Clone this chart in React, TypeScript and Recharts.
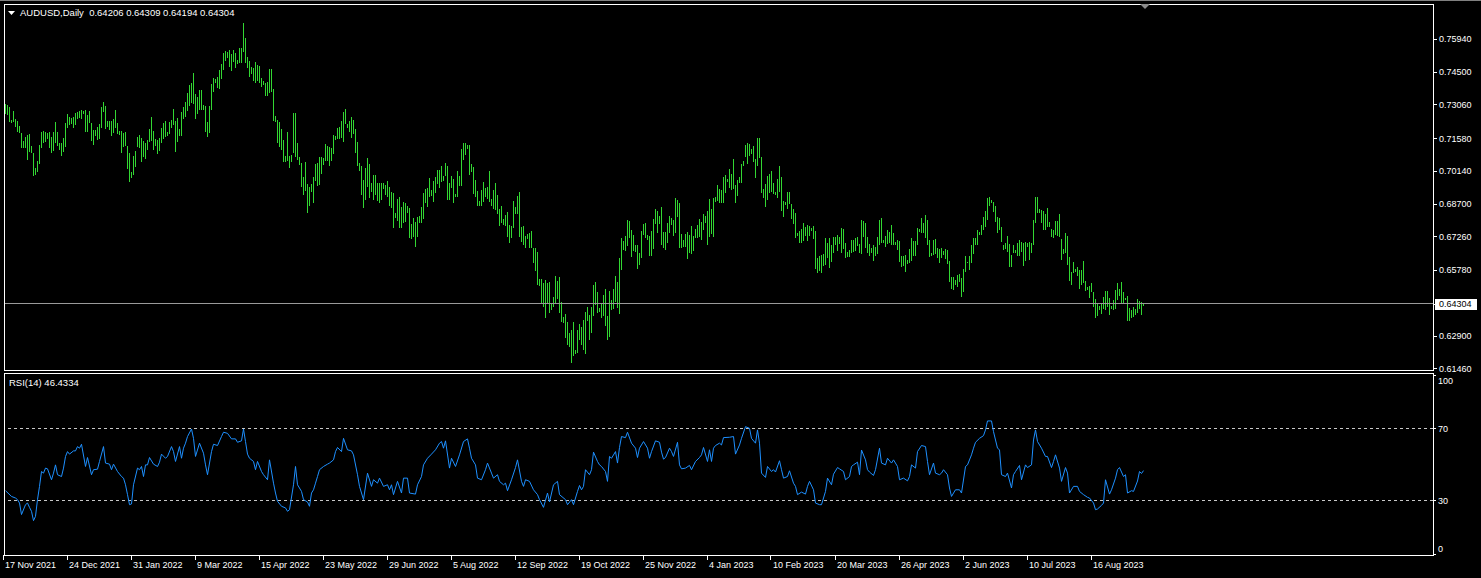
import { ComposedChart, Bar, Line, XAxis, YAxis, ReferenceLine } from 'recharts';

// AUDUSD daily bars, price x 10000, one entry per bar (0 = 17 Nov 2021)
const highs = [
  7306, 7303, 7296, 7237, 7277, 7242, 7233, 7212, 7179, 7145,
  7164, 7171, 7174, 7125, 7094, 7025, 7057, 7127, 7183, 7189,
  7186, 7179, 7183, 7164, 7183, 7230, 7183, 7138, 7135, 7160,
  7223, 7262, 7249, 7245, 7252, 7270, 7274, 7277, 7281, 7278,
  7281, 7259, 7277, 7223, 7193, 7193, 7208, 7218, 7296, 7315,
  7300, 7233, 7233, 7233, 7242, 7281, 7223, 7189, 7189, 7179,
  7186, 7125, 7091, 7010, 7081, 7101, 7164, 7171, 7160, 7145,
  7135, 7149, 7198, 7252, 7189, 7154, 7149, 7160, 7201, 7223,
  7233, 7186, 7227, 7237, 7286, 7233, 7245, 7198, 7274, 7296,
  7315, 7354, 7391, 7398, 7442, 7350, 7340, 7369, 7369, 7303,
  7300, 7227, 7300, 7394, 7420, 7417, 7428, 7457, 7482, 7530,
  7540, 7535, 7545, 7526, 7545, 7530, 7501, 7555, 7555, 7662,
  7596, 7516, 7497, 7472, 7467, 7494, 7479, 7476, 7420, 7409,
  7401, 7403, 7461, 7461, 7374, 7256, 7236, 7230, 7198, 7149,
  7081, 7186, 7081, 7084, 7267, 7267, 7135, 7073, 7047, 6985,
  7054, 6955, 6941, 6956, 6985, 7044, 7047, 7073, 7073, 7069,
  7132, 7123, 7120, 7113, 7171, 7167, 7201, 7205, 7233, 7271,
  7284, 7220, 7231, 7249, 7237, 7196, 7141, 7047, 7035, 6974,
  7025, 7069, 7044, 6959, 6996, 6996, 6962, 6962, 6959, 6959,
  6952, 6969, 6941, 6922, 6918, 6827, 6890, 6897, 6853, 6877,
  6874, 6859, 6849, 6780, 6805, 6789, 6812, 6815, 6856, 6915,
  6933, 6937, 6981, 6930, 6969, 6988, 7018, 7018, 7035, 6991,
  7047, 7035, 6962, 6991, 6980, 6912, 7015, 6991, 7108, 7138,
  7135, 7127, 7127, 7044, 7032, 6974, 6927, 6883, 6930, 6966,
  6937, 6941, 7015, 6889, 6930, 6959, 6908, 6845, 6859, 6804,
  6820, 6835, 6776, 6772, 6881, 6856, 6903, 6922, 6766, 6772,
  6728, 6736, 6742, 6751, 6673, 6673, 6659, 6539, 6539, 6520,
  6534, 6523, 6527, 6432, 6461, 6552, 6531, 6546, 6439, 6373,
  6385, 6351, 6303, 6315, 6351, 6227, 6315, 6341, 6329, 6359,
  6395, 6417, 6380, 6417, 6512, 6525, 6480, 6410, 6432, 6468,
  6495, 6376, 6486, 6446, 6493, 6552, 6525, 6629, 6717, 6706,
  6728, 6798, 6794, 6754, 6732, 6688, 6688, 6651, 6750, 6780,
  6783, 6732, 6728, 6751, 6801, 6846, 6837, 6817, 6854, 6747,
  6745, 6785, 6815, 6805, 6798, 6893, 6886, 6874, 6736, 6710,
  6736, 6745, 6732, 6772, 6728, 6760, 6776, 6802, 6791, 6824,
  6815, 6839, 6890, 6846, 6893, 6900, 6952, 6933, 6930, 6988,
  6996, 6977, 7021, 7000, 7066, 6952, 6974, 6988, 7044, 7057,
  7127, 7138, 7130, 7110, 7123, 7066, 7157, 7157, 7073, 6933,
  6955, 6991, 7000, 7013, 6962, 6922, 6978, 7035, 6985, 6883,
  6878, 6922, 6919, 6868, 6846, 6830, 6742, 6751, 6758, 6783,
  6769, 6776, 6773, 6764, 6772, 6750, 6629, 6640, 6644, 6647,
  6717, 6695, 6717, 6688, 6725, 6722, 6732, 6725, 6763, 6758,
  6695, 6659, 6666, 6710, 6710, 6717, 6722, 6691, 6798, 6794,
  6783, 6722, 6692, 6676, 6688, 6681, 6722, 6798, 6805, 6710,
  6728, 6754, 6747, 6776, 6742, 6703, 6710, 6707, 6640, 6640,
  6644, 6622, 6669, 6717, 6707, 6707, 6761, 6757, 6805, 6786,
  6820, 6798, 6710, 6654, 6710, 6713, 6673, 6669, 6673, 6662,
  6669, 6666, 6618, 6546, 6546, 6534, 6556, 6559, 6542, 6583,
  6640, 6615, 6640, 6688, 6717, 6717, 6754, 6747, 6776, 6810,
  6839, 6893, 6897, 6886, 6878, 6859, 6810, 6805, 6769, 6688,
  6695, 6728, 6692, 6644, 6688, 6666, 6698, 6710, 6703, 6698,
  6703, 6695, 6703, 6698, 6798, 6897, 6897, 6845, 6842, 6839,
  6824, 6849, 6791, 6757, 6754, 6795, 6795, 6824, 6713, 6669,
  6739, 6728, 6637, 6571, 6615, 6581, 6593, 6578, 6578, 6618,
  6531, 6502, 6508, 6520, 6480, 6449, 6432, 6420, 6432, 6458,
  6486, 6487, 6454, 6420, 6444, 6490, 6523, 6493, 6524, 6483,
  6457, 6464, 6410, 6400, 6417, 6405, 6451, 6442, 6436, 6431,
];

const lows = [
  7262, 7259, 7227, 7223, 7230, 7208, 7186, 7179, 7113, 7116,
  7116, 7062, 7095, 7091, 6993, 6996, 7007, 7043, 7116, 7135,
  7142, 7154, 7113, 7091, 7101, 7135, 7125, 7105, 7081, 7098,
  7120, 7201, 7215, 7218, 7204, 7215, 7242, 7245, 7242, 7262,
  7183, 7186, 7223, 7145, 7127, 7168, 7149, 7154, 7201, 7274,
  7198, 7208, 7193, 7168, 7179, 7201, 7174, 7171, 7091, 7120,
  7125, 7022, 6966, 6981, 6996, 7032, 7120, 7113, 7051, 7076,
  7066, 7105, 7139, 7145, 7105, 7125, 7086, 7101, 7135, 7154,
  7164, 7168, 7174, 7201, 7215, 7095, 7139, 7168, 7168, 7242,
  7252, 7277, 7300, 7311, 7306, 7242, 7262, 7281, 7281, 7281,
  7186, 7164, 7182, 7281, 7362, 7398, 7376, 7374, 7417, 7457,
  7497, 7508, 7472, 7453, 7494, 7467, 7482, 7486, 7486, 7535,
  7486, 7467, 7428, 7438, 7409, 7398, 7409, 7398, 7384, 7391,
  7344, 7344, 7354, 7362, 7233, 7230, 7135, 7120, 7105, 7054,
  7054, 7057, 7028, 7051, 7091, 7076, 7062, 7040, 6944, 6908,
  6927, 6830, 6859, 6922, 6874, 6971, 6947, 6952, 7000, 7040,
  7059, 7059, 7037, 7059, 7088, 7149, 7152, 7152, 7157, 7142,
  7220, 7201, 7183, 7157, 7176, 7094, 7037, 7015, 6908, 6852,
  6886, 6944, 6896, 6922, 6886, 6908, 6883, 6871, 6886, 6933,
  6908, 6900, 6859, 6849, 6764, 6805, 6795, 6761, 6761, 6783,
  6790, 6830, 6717, 6713, 6722, 6681, 6725, 6786, 6786, 6804,
  6871, 6856, 6900, 6903, 6878, 6918, 6956, 6937, 6966, 6971,
  6991, 6886, 6886, 6937, 6871, 6900, 6897, 6947, 6947, 7062,
  7083, 7108, 6996, 7010, 6912, 6900, 6859, 6859, 6859, 6878,
  6900, 6889, 6878, 6859, 6845, 6842, 6824, 6772, 6783, 6776,
  6772, 6725, 6698, 6717, 6761, 6824, 6824, 6725, 6703, 6688,
  6673, 6713, 6673, 6673, 6610, 6575, 6512, 6508, 6435, 6417,
  6366, 6429, 6391, 6400, 6417, 6432, 6449, 6391, 6351, 6344,
  6278, 6249, 6238, 6171, 6200, 6209, 6212, 6271, 6249, 6227,
  6209, 6356, 6271, 6303, 6376, 6424, 6391, 6395, 6369, 6376,
  6332, 6271, 6285, 6402, 6407, 6439, 6410, 6385, 6578, 6666,
  6663, 6684, 6717, 6634, 6663, 6659, 6581, 6600, 6629, 6732,
  6717, 6710, 6640, 6640, 6669, 6780, 6742, 6779, 6688, 6673,
  6666, 6698, 6739, 6776, 6728, 6739, 6810, 6676, 6676, 6678,
  6681, 6627, 6654, 6649, 6662, 6717, 6717, 6725, 6710, 6754,
  6783, 6688, 6725, 6736, 6725, 6878, 6883, 6874, 6874, 6871,
  6915, 6966, 6937, 6930, 6934, 6874, 6905, 6959, 6959, 7037,
  7076, 7042, 7079, 7088, 7054, 6984, 7035, 7069, 6918, 6896,
  6856, 6886, 6918, 6922, 6912, 6908, 6893, 6919, 6839, 6813,
  6864, 6845, 6868, 6801, 6779, 6720, 6728, 6698, 6698, 6707,
  6728, 6707, 6728, 6751, 6714, 6581, 6566, 6575, 6566, 6597,
  6600, 6629, 6588, 6615, 6654, 6688, 6663, 6692, 6651, 6669,
  6629, 6634, 6637, 6654, 6659, 6663, 6684, 6654, 6649, 6722,
  6673, 6654, 6640, 6651, 6619, 6640, 6648, 6688, 6695, 6695,
  6681, 6692, 6695, 6688, 6688, 6688, 6666, 6615, 6593, 6596,
  6571, 6605, 6610, 6619, 6640, 6640, 6688, 6744, 6739, 6742,
  6717, 6688, 6637, 6641, 6644, 6648, 6629, 6607, 6629, 6644,
  6625, 6605, 6527, 6493, 6490, 6512, 6502, 6527, 6458, 6483,
  6571, 6607, 6578, 6610, 6648, 6688, 6688, 6732, 6732, 6754,
  6766, 6798, 6859, 6871, 6835, 6791, 6742, 6754, 6703, 6666,
  6669, 6659, 6593, 6593, 6654, 6651, 6640, 6640, 6659, 6596,
  6619, 6678, 6622, 6651, 6688, 6786, 6830, 6827, 6783, 6754,
  6754, 6769, 6766, 6725, 6717, 6732, 6728, 6725, 6622, 6648,
  6654, 6600, 6531, 6512, 6564, 6567, 6552, 6496, 6512, 6523,
  6487, 6490, 6454, 6483, 6414, 6366, 6376, 6400, 6385, 6407,
  6402, 6417, 6381, 6405, 6402, 6405, 6444, 6464, 6435, 6435,
  6444, 6356, 6356, 6366, 6370, 6381, 6388, 6405, 6381, 6419,
];

const rsiBars = [
  0, 3, 5, 6, 7, 8, 10, 11, 12, 13,
  14, 15, 16, 17, 18, 19, 20, 21, 23, 24,
  25, 26, 28, 29, 30, 31, 32, 34, 35, 36,
  37, 38, 40, 41, 43, 44, 46, 47, 49, 50,
  52, 53, 54, 56, 58, 59, 60, 61, 62, 63,
  64, 66, 67, 68, 69, 70, 71, 72, 74, 76,
  77, 78, 80, 81, 83, 84, 85, 87, 88, 89,
  90, 91, 93, 94, 95, 97, 99, 100, 101, 103,
  104, 106, 108, 109, 111, 113, 115, 116, 118, 119,
  120, 121, 122, 124, 125, 126, 128, 129, 131, 132,
  134, 135, 136, 138, 140, 141, 142, 144, 145, 146,
  148, 149, 151, 152, 153, 154, 155, 156, 157, 159,
  161, 162, 164, 165, 166, 168, 169, 171, 173, 174,
  176, 177, 179, 181, 183, 184, 186, 187, 189, 191,
  192, 193, 194, 196, 198, 199, 201, 202, 205, 206,
  208, 209, 211, 213, 215, 217, 218, 219, 220, 222,
  223, 225, 227, 229, 231, 232, 233, 235, 236, 238,
  240, 241, 243, 244, 246, 247, 249, 250, 251, 253,
  255, 256, 258, 259, 260, 262, 264, 266, 267, 269,
  271, 272, 274, 276, 277, 280, 281, 283, 284,
  286, 287, 288, 289, 290, 292, 293, 294, 296, 297,
  298, 300, 301, 302, 303, 305, 306, 307, 308, 310,
  311, 313, 315, 316, 317, 319, 321, 322, 323, 325,
  327, 328, 329, 330, 332, 333, 334, 336, 337, 338,
  340, 342, 343, 345, 347, 348, 349, 351, 352, 353,
  354, 355, 357, 358, 359, 362, 364, 365, 367, 368,
  370, 372, 373, 375, 376, 377, 378, 380, 381, 383,
  384, 385, 387, 388, 389, 391, 392, 394, 395, 396,
  398, 400, 401, 402, 404, 405, 407, 408, 410, 411,
  413, 414, 416, 417, 419, 420, 422, 423, 424, 426,
  427, 428, 430, 431, 432, 434, 435, 437, 438, 440,
  441, 443, 444, 446, 447, 449, 451, 452, 453, 455,
  456, 458, 460, 461, 462, 464, 465, 467, 468, 469,
  471, 472, 473, 475, 477, 478, 480, 481, 483, 484,
  485, 487, 489, 490, 491, 493, 494, 496, 497, 498,
  500, 501, 503, 504, 505, 507, 508, 510, 511, 513,
  514, 515, 516, 518, 520, 521, 523, 524, 525, 527,
  528, 530, 531, 532, 534, 536, 537, 539, 541, 542,
  544, 545, 546, 548, 549, 550, 552, 553, 555, 556,
  557, 559, 560, 561, 563, 564, 566, 567, 568, 569,
];

const rsiValues = [
  35.2, 32.0, 31.1, 30.2, 28.3, 21.9, 27.4, 28.3, 25.9, 23.7,
  18.5, 20.9, 30.2, 37.6, 45.9, 45.0, 47.8, 47.4, 41.3, 45.0,
  49.6, 44.1, 43.1, 47.8, 54.3, 57.0, 55.6, 57.4, 57.4, 59.8,
  58.9, 61.1, 48.7, 53.7, 44.1, 46.9, 47.2, 51.5, 59.8, 50.6,
  50.0, 46.9, 50.0, 45.9, 43.1, 42.2, 38.5, 33.0, 27.4, 27.8,
  38.5, 47.8, 46.9, 48.7, 43.1, 49.6, 49.6, 53.7, 50.0, 48.7,
  51.1, 55.6, 53.3, 54.3, 59.8, 57.0, 51.5, 59.8, 53.3, 58.9,
  61.7, 65.4, 69.6, 64.4, 54.3, 61.7, 56.1, 49.6, 44.1, 57.0,
  61.1, 60.4, 65.4, 67.8, 67.2, 64.1, 64.1, 62.2, 63.0, 69.6,
  62.6, 55.6, 53.3, 51.5, 46.9, 51.5, 45.9, 44.1, 41.3, 52.4,
  39.4, 33.9, 29.3, 26.5, 25.6, 23.7, 24.6, 38.5, 48.7, 38.5,
  34.8, 30.2, 28.9, 26.5, 33.9, 35.7, 39.4, 43.1, 46.9, 48.7,
  50.0, 50.6, 52.4, 57.0, 59.3, 57.0, 64.4, 58.0, 57.4, 55.2,
  44.1, 37.6, 30.2, 45.0, 37.6, 41.3, 39.4, 42.2, 37.6, 38.5,
  35.7, 38.5, 33.0, 40.4, 33.9, 42.2, 42.2, 33.9, 33.3, 38.5,
  43.1, 49.6, 53.3, 55.6, 58.0, 61.7, 62.6, 58.9, 63.0, 47.8,
  53.3, 48.7, 55.2, 62.6, 64.1, 58.9, 53.3, 49.6, 42.2, 41.3,
  46.9, 50.6, 45.0, 42.2, 44.1, 40.4, 38.5, 39.4, 35.2, 41.3,
  48.1, 52.4, 40.4, 37.6, 41.3, 40.4, 35.7, 33.0, 30.2, 25.9,
  33.9, 28.9, 38.5, 40.4, 33.0, 30.2, 27.4, 30.2, 27.4,
  34.8, 38.1, 35.7, 37.6, 46.9, 44.1, 46.9, 56.7, 51.5, 49.6,
  48.7, 45.9, 40.4, 54.3, 53.3, 57.0, 50.6, 59.3, 65.4, 64.8,
  67.8, 61.7, 58.9, 53.7, 58.9, 62.6, 58.9, 53.3, 57.0, 63.0,
  62.2, 56.7, 52.8, 53.7, 58.9, 57.0, 54.3, 62.2, 49.6, 47.4,
  47.8, 49.3, 46.9, 51.5, 53.7, 55.2, 59.3, 51.5, 58.0, 51.5,
  58.9, 60.4, 61.7, 60.7, 64.8, 65.0, 65.4, 55.6, 60.7, 64.4,
  70.9, 70.0, 64.4, 61.7, 69.1, 61.7, 45.0, 42.6, 48.7, 45.9,
  46.9, 45.6, 51.9, 46.9, 42.2, 43.1, 46.3, 39.4, 37.6, 33.0,
  34.4, 33.3, 37.6, 40.4, 35.7, 28.3, 27.4, 27.4, 34.8, 42.2,
  38.5, 44.4, 48.1, 47.4, 45.9, 41.3, 43.1, 48.7, 49.6, 51.1,
  44.1, 57.9, 52.4, 46.9, 45.6, 43.7, 46.9, 58.9, 50.6, 49.6,
  53.3, 50.6, 52.4, 48.7, 41.3, 42.2, 40.7, 43.1, 49.6, 47.8,
  57.0, 60.4, 59.8, 51.5, 44.1, 50.6, 45.0, 44.1, 45.0, 46.9,
  44.1, 36.7, 32.0, 35.7, 35.7, 33.9, 48.7, 49.6, 55.2, 58.9,
  62.2, 64.4, 65.9, 69.1, 74.1, 74.1, 68.1, 58.9, 58.0, 44.1,
  43.1, 45.0, 36.7, 44.1, 45.9, 49.3, 41.3, 49.6, 48.1, 49.6,
  63.5, 69.1, 62.6, 58.9, 54.3, 54.3, 48.1, 51.5, 55.2, 47.8,
  40.4, 48.1, 45.0, 33.9, 37.6, 37.6, 34.8, 33.0, 31.5, 31.1,
  28.3, 24.6, 25.0, 27.0, 28.3, 41.3, 33.3, 35.7, 42.2, 46.9,
  48.1, 43.1, 44.1, 33.9, 35.2, 34.8, 40.6, 45.9, 44.8, 46.4,
];

const priceTicks = [0.7594, 0.745, 0.7306, 0.7158, 0.7014, 0.687, 0.6726, 0.6578, 0.64304, 0.629, 0.6146];
const bidPrice = 0.64304;
const rsiTicks = [0, 30, 70, 100];
const dateTicks = [0, 32, 64, 96, 128, 160, 192, 224, 256, 288, 320, 352, 384, 416, 448, 480, 512, 544];
const dateLabels = [
  '17 Nov 2021', '24 Dec 2021', '31 Jan 2022', '9 Mar 2022', '15 Apr 2022', '23 May 2022',
  '29 Jun 2022', '5 Aug 2022', '12 Sep 2022', '19 Oct 2022', '25 Nov 2022', '4 Jan 2023',
  '10 Feb 2023', '20 Mar 2023', '26 Apr 2023', '2 Jun 2023', '10 Jul 2023', '16 Aug 2023',
];

const priceRows = highs.map((h, i) => ({ i, range: [lows[i] / 10000, h / 10000] }));
const rsiRows = rsiBars.map((i, k) => ({ i, rsi: rsiValues[k] }));

const FONT = "'Liberation Sans', Arial, sans-serif";
const GREEN = '#32d632';
const X_DOMAIN: [number, number] = [-0.75, 713.75];
const AXIS_X = 1433;

function BarShape(p: any) {
  const y = Math.min(p.y, p.y + p.height);
  const h = Math.max(1, Math.abs(p.height));
  return <rect x={p.x} y={y} width={1} height={h} fill={GREEN} shapeRendering="crispEdges" />;
}

function PriceTick({ y, payload }: any) {
  const v = payload.value;
  const bid = Math.abs(v - bidPrice) < 1e-7;
  const ly = Math.round(y) + 0.5;
  return (
    <g>
      <line x1={AXIS_X} x2={AXIS_X + 4} y1={ly} y2={ly} stroke="#fff" />
      {bid && <rect x={AXIS_X + 2} y={Math.round(y) - 5} width={42} height={11} fill="#fff" />}
      <text x={AXIS_X + 6} y={y + 3.5} fill={bid ? '#000' : '#fff'} fontSize={9} fontFamily={FONT}>
        {v.toFixed(5)}
      </text>
    </g>
  );
}

function RsiTick({ y, payload }: any) {
  const v = payload.value;
  const ty = v === 100 ? y + 5.5 : v === 0 ? y - 5.5 : y;
  const ly = Math.round(y) + 0.5;
  return (
    <g>
      <line x1={AXIS_X} x2={AXIS_X + 3} y1={ly} y2={ly} stroke="#fff" />
      <text x={AXIS_X + 5} y={ty + 3.5} fill="#fff" fontSize={9} fontFamily={FONT}>
        {v}
      </text>
    </g>
  );
}

function DateTick({ x, payload }: any) {
  const idx = dateTicks.indexOf(payload.value);
  const tx = Math.round(x) - 2.5;
  return (
    <g>
      <line x1={tx} x2={tx} y1={183} y2={188} stroke="#fff" />
      <text x={x - 0.5} y={195.5} fill="#fff" fontSize={9} fontFamily={FONT}>
        {dateLabels[idx]}
      </text>
    </g>
  );
}

const overlay: React.CSSProperties = { position: 'absolute', pointerEvents: 'none' };

export default function App() {
  return (
    <div style={{ position: 'relative', width: 1481, height: 578, background: '#000', overflow: 'hidden' }}>
      <style>{'body{margin:0;background:#000}'}</style>

      <div style={{ ...overlay, left: 0, top: 0, width: 1481, height: 1, background: '#808080' }} />

      <div style={{ position: 'absolute', left: 0, top: 372 }}>
        <ComposedChart width={1481} height={206} data={rsiRows} margin={{ top: 1, right: 0, bottom: 0, left: 4 }}>
          <XAxis
            dataKey="i"
            type="number"
            domain={X_DOMAIN}
            allowDataOverflow
            ticks={dateTicks}
            interval={0}
            height={23}
            tick={<DateTick />}
            tickLine={false}
            axisLine={false}
          />
          <YAxis
            orientation="right"
            type="number"
            width={48}
            domain={[-0.67, 100.84]}
            allowDataOverflow
            ticks={rsiTicks}
            interval={0}
            tick={<RsiTick />}
            tickLine={false}
            axisLine={false}
          />
          <ReferenceLine y={70} stroke="#c8c8c8" strokeDasharray="3 3" shapeRendering="crispEdges" />
          <ReferenceLine y={30} stroke="#c8c8c8" strokeDasharray="3 3" shapeRendering="crispEdges" />
          <Line dataKey="rsi" type="linear" stroke="#1e90ff" strokeWidth={1} dot={false} isAnimationActive={false} />
        </ComposedChart>
      </div>

      {/* price pane is taller than its plot so the lowest axis label is not clipped */}
      <div style={{ position: 'absolute', left: 0, top: 0 }}>
        <ComposedChart width={1481} height={380} data={priceRows} margin={{ top: 4, right: 0, bottom: 10, left: 4 }}>
          <XAxis dataKey="i" type="number" domain={X_DOMAIN} allowDataOverflow hide />
          <YAxis
            orientation="right"
            type="number"
            width={48}
            domain={[0.61385, 0.77469]}
            allowDataOverflow
            ticks={priceTicks}
            interval={0}
            tick={<PriceTick />}
            tickLine={false}
            axisLine={false}
          />
          <Bar dataKey="range" barSize={1} shape={<BarShape />} isAnimationActive={false} />
          <ReferenceLine y={bidPrice} stroke="#9a9a9a" shapeRendering="crispEdges" />
        </ComposedChart>
      </div>

      {/* pane frames */}
      <div style={{ ...overlay, left: 4, top: 4, width: 1430, height: 367, border: '1px solid #fff', boxSizing: 'border-box' }} />
      <div style={{ ...overlay, left: 4, top: 373, width: 1430, height: 183, border: '1px solid #fff', boxSizing: 'border-box' }} />

      {/* chart title */}
      <svg style={{ ...overlay, left: 0, top: 0 }} width={30} height={30}>
        <polygon points="8,11 15,11 11.5,15" fill="#fff" />
      </svg>
      <div
        style={{
          ...overlay, left: 20, top: 7, fontFamily: FONT, fontSize: 9.5, lineHeight: '11px',
          color: '#fff', whiteSpace: 'pre',
        }}
      >
        {'AUDUSD,Daily  0.64206 0.64309 0.64194 0.64304'}
      </div>
      <svg style={{ ...overlay, left: 1138, top: 4 }} width={14} height={8}>
        <polygon points="2,0 12,0 7,5" fill="#8a8a8a" />
      </svg>

      <div
        style={{
          ...overlay, left: 9, top: 377, fontFamily: FONT, fontSize: 9.5, lineHeight: '11px',
          color: '#fff', whiteSpace: 'pre',
        }}
      >
        {'RSI(14) 46.4334'}
      </div>
    </div>
  );
}
